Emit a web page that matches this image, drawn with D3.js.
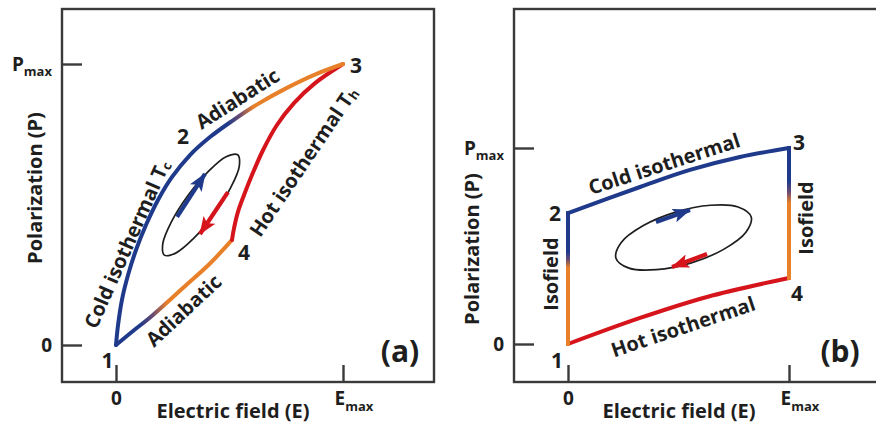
<!DOCTYPE html>
<html>
<head>
<meta charset="utf-8">
<script src="https://cdn.jsdelivr.net/npm/d3@7"></script>
<style>
  html, body { margin: 0; padding: 0; background: #fff; }
  svg { display: block; font-family: "Open Sans", Lato, sans-serif; font-weight: 700; }
</style>
</head>
<body>
<svg id="chart" width="876" height="425"></svg>
<script>
// ---------------------------------------------------------------
// Data: field E in units of Emax, polarization P in units of Pmax
// ---------------------------------------------------------------
const eTicks = [0, 1];
const eTickLabels = [["0", ""], ["E", "max"]];
const pTicks = [0, 1];
const pTickLabels = [["0", ""], ["P", "max"]];

// (a) Carnot-type cycle: cold isothermal 1->2 followed by adiabatic 2->3
const carnotColdThenAdiabat = [
  [0, 0], [0.009, 0.071], [0.026, 0.160], [0.053, 0.249], [0.088, 0.338],
  [0.132, 0.427], [0.185, 0.516], [0.247, 0.598], [0.326, 0.676],
  [0.414, 0.740], [0.511, 0.797], [0.626, 0.858], [0.753, 0.915],
  [0.881, 0.964], [1, 1]
];
// hot isothermal 4->3
const carnotHotIsotherm = [
  [0.511, 0.374], [0.520, 0.416], [0.537, 0.473], [0.564, 0.534],
  [0.599, 0.605], [0.648, 0.694], [0.709, 0.783], [0.784, 0.861],
  [0.877, 0.932], [1, 1]
];
// adiabatic 1->4
const carnotLowerAdiabat = [
  [0, 0], [0.075, 0.050], [0.150, 0.098], [0.295, 0.203],
  [0.414, 0.290], [0.511, 0.374]
];
// small electrocaloric loop inside the cycle
const carnotLoop = [
  [0.536, 0.677], [0.543, 0.636], [0.504, 0.558], [0.432, 0.465],
  [0.343, 0.380], [0.263, 0.327], [0.213, 0.320], [0.206, 0.360],
  [0.244, 0.438], [0.317, 0.532], [0.406, 0.617], [0.485, 0.670]
];
const carnotArrowUp = [[0.269, 0.456], [0.392, 0.609]];
const carnotArrowDown = [[0.493, 0.544], [0.370, 0.395]];

// (b) Ericsson-type cycle
const ericssonCold = [[0, 0.668], [0.326, 0.801], [0.552, 0.888], [0.778, 0.954], [1, 1]];
const ericssonHot = [[0, 0], [0.326, 0.133], [0.629, 0.240], [1, 0.337]];
const ericssonIsofieldLow = [[0, 0], [0, 0.668]];
const ericssonIsofieldHigh = [[1, 1], [1, 0.337]];
const ericssonLoop = [
  [0.829, 0.648], [0.805, 0.570], [0.706, 0.484], [0.558, 0.414],
  [0.400, 0.379], [0.276, 0.387], [0.217, 0.438], [0.240, 0.517],
  [0.339, 0.603], [0.487, 0.673], [0.645, 0.708], [0.770, 0.699]
];
const ericssonArrowUp = [[0.398, 0.622], [0.552, 0.684]];
const ericssonArrowDown = [[0.629, 0.459], [0.471, 0.393]];

// ---------------------------------------------------------------
// Styling and layout
// ---------------------------------------------------------------
const BLUE = "#1f3a8a", RED = "#d5141c", ORANGE = "#e8802a", PURPLE = "#6a4b72";
const INK = "#1e1e1e", FRAME = "#3a3a3a";
const FONT = "'Open Sans', Lato, sans-serif";

const svg = d3.select("#chart");
const defs = svg.append("defs");

// arrowheads
[["head-blue", BLUE], ["head-red", RED]].forEach(([id, col]) => {
  defs.append("marker")
    .attr("id", id)
    .attr("markerUnits", "userSpaceOnUse")
    .attr("viewBox", "0 0 18 14")
    .attr("markerWidth", 18).attr("markerHeight", 14)
    .attr("refX", 17).attr("refY", 7)
    .attr("orient", "auto")
    .append("path")
    .attr("d", "M0,0 L18,7 L0,14 L4,7 Z")
    .attr("fill", col);
});

// colour ramp along one axis, stops given in data units
function ramp(id, axis, scale, stops) {
  const a = scale(0), b = scale(1);
  const g = defs.append("linearGradient")
    .attr("id", id)
    .attr("gradientUnits", "userSpaceOnUse");
  if (axis === "x") g.attr("x1", a).attr("x2", b).attr("y1", 0).attr("y2", 0);
  else g.attr("x1", 0).attr("x2", 0).attr("y1", a).attr("y2", b);
  stops.forEach(([v, c]) => g.append("stop").attr("offset", v).attr("stop-color", c));
  return `url(#${id})`;
}

const panels = [
  {
    key: "a",
    frame: [62, 9, 434, 382],
    xRange: [116, 343], yRange: [345, 64],
    xTitle: [233, 418], yTitle: [34, 188]
  },
  {
    key: "b",
    frame: [514, 9, 884, 382],
    xRange: [568, 789], yRange: [344, 148],
    xTitle: [679, 418], yTitle: [471, 249]
  }
];

function tickText(sel, labels, start) {
  sel.each(function (d, i) {
    const t = d3.select(this)
      .attr("font-size", 19).attr("font-family", FONT)
      .attr("font-weight", 700).attr("fill", INK);
    const [main, sub] = labels[i];
    if (sub && start) t.attr("text-anchor", "start").attr("x", -9);
    t.append("tspan").text(main);
    if (sub) t.append("tspan").attr("font-size", 13).attr("dy", "0.45em").text(sub);
  });
}

function drawFrameAndAxes(p) {
  const g = svg.append("g").attr("class", "panel-" + p.key);
  const x = d3.scaleLinear().domain([0, 1]).range(p.xRange);
  const y = d3.scaleLinear().domain([0, 1]).range(p.yRange);
  const [x0, y0, x1, y1] = p.frame;

  g.append("rect")
    .attr("x", x0).attr("y", y0)
    .attr("width", x1 - x0).attr("height", y1 - y0)
    .attr("fill", "none").attr("stroke", FRAME).attr("stroke-width", 2.4);

  // y axis, ticks pointing into the frame
  const ya = g.append("g")
    .attr("transform", `translate(${x0},0)`)
    .call(d3.axisLeft(y).tickValues(pTicks).tickSizeInner(-20).tickSizeOuter(0)
      .tickPadding(10).tickFormat(() => ""));
  ya.select(".domain").remove();
  ya.selectAll(".tick line").attr("stroke", FRAME).attr("stroke-width", 2.4);
  tickText(ya.selectAll(".tick text"), pTickLabels, false);

  // x axis, ticks pointing into the frame
  const xa = g.append("g")
    .attr("transform", `translate(0,${y1})`)
    .call(d3.axisBottom(x).tickValues(eTicks).tickSizeInner(-17).tickSizeOuter(0)
      .tickPadding(10).tickFormat(() => ""));
  xa.select(".domain").remove();
  xa.selectAll(".tick line").attr("stroke", FRAME).attr("stroke-width", 2.4);
  tickText(xa.selectAll(".tick text"), eTickLabels, true);

  g.append("text")
    .attr("x", p.xTitle[0]).attr("y", p.xTitle[1])
    .attr("text-anchor", "middle").attr("font-size", 20).attr("fill", INK)
    .text("Electric field (E)");
  g.append("text")
    .attr("transform", `translate(${p.yTitle[0]},${p.yTitle[1]}) rotate(-90)`)
    .attr("text-anchor", "middle").attr("dominant-baseline", "central")
    .attr("font-size", 20).attr("fill", INK)
    .text("Polarization (P)");

  return { g, x, y };
}

function curve(g, x, y, pts, stroke, opts = {}) {
  const line = d3.line()
    .x(d => x(d[0])).y(d => y(d[1]))
    .curve(opts.closed ? d3.curveCatmullRomClosed.alpha(0.5) : d3.curveCatmullRom.alpha(0.5));
  return g.append("path")
    .attr("d", line(pts))
    .attr("fill", "none")
    .attr("stroke", stroke)
    .attr("stroke-width", opts.width || 4)
    .attr("stroke-linecap", opts.cap || "round")
    .attr("stroke-linejoin", "round");
}

function arrow(g, x, y, pts, col, head) {
  g.append("line")
    .attr("x1", x(pts[0][0])).attr("y1", y(pts[0][1]))
    .attr("x2", x(pts[1][0])).attr("y2", y(pts[1][1]))
    .attr("stroke", col).attr("stroke-width", 4.2)
    .attr("marker-end", `url(#${head})`);
}

function label(g, x, y, a) {
  const t = g.append("text")
    .attr("transform", `translate(${x(a.E)},${y(a.P)}) rotate(${a.angle || 0})`)
    .attr("text-anchor", "middle").attr("dominant-baseline", "central")
    .attr("font-size", a.size || 20).attr("fill", INK);
  t.append("tspan").text(a.text);
  if (a.sub) t.append("tspan").attr("font-size", 13).attr("dy", 5).text(a.sub);
}

// ---------------------------------------------------------------
// Panel (a)
// ---------------------------------------------------------------
{
  const { g, x, y } = drawFrameAndAxes(panels[0]);
  const upperRamp = ramp("ramp-a-upper", "x", x,
    [[0, BLUE], [0.49, BLUE], [0.545, PURPLE], [0.605, ORANGE], [1, ORANGE]]);
  const lowerRamp = ramp("ramp-a-lower", "x", x,
    [[0, BLUE], [0.106, BLUE], [0.163, PURPLE], [0.225, ORANGE], [1, ORANGE]]);

  curve(g, x, y, carnotLowerAdiabat, lowerRamp);
  curve(g, x, y, carnotHotIsotherm, RED);
  curve(g, x, y, carnotColdThenAdiabat, upperRamp);
  curve(g, x, y, carnotLoop, INK, { closed: true, width: 1.7 });
  arrow(g, x, y, carnotArrowUp, BLUE, "head-blue");
  arrow(g, x, y, carnotArrowDown, RED, "head-red");

  [
    { text: "Cold isothermal T", sub: "c", E: 0.045, P: 0.36, angle: -66 },
    { text: "Adiabatic", E: 0.533, P: 0.879, angle: -32.5 },
    { text: "Hot isothermal T", sub: "h", E: 0.823, P: 0.655, angle: -56 },
    { text: "Adiabatic", E: 0.295, P: 0.125, angle: -43 },
    { text: "1", E: -0.037, P: -0.053, size: 21 },
    { text: "2", E: 0.295, P: 0.745, size: 21 },
    { text: "3", E: 1.057, P: 0.996, size: 21 },
    { text: "4", E: 0.564, P: 0.331, size: 21 },
    { text: "(a)", E: 1.251, P: -0.018, size: 30 }
  ].forEach(a => label(g, x, y, a));
}

// ---------------------------------------------------------------
// Panel (b)
// ---------------------------------------------------------------
{
  const { g, x, y } = drawFrameAndAxes(panels[1]);
  const lowRamp = ramp("ramp-b-low", "y", y,
    [[0, ORANGE], [0.39, ORANGE], [0.43, PURPLE], [0.47, BLUE], [1, BLUE]]);
  const highRamp = ramp("ramp-b-high", "y", y,
    [[0, ORANGE], [0.72, ORANGE], [0.775, PURPLE], [0.83, BLUE], [1, BLUE]]);

  curve(g, x, y, ericssonCold, BLUE);
  curve(g, x, y, ericssonHot, RED);
  curve(g, x, y, ericssonIsofieldLow, lowRamp, { cap: "square" });
  curve(g, x, y, ericssonIsofieldHigh, highRamp, { cap: "square" });
  curve(g, x, y, ericssonLoop, INK, { closed: true, width: 1.7 });
  arrow(g, x, y, ericssonArrowUp, BLUE, "head-blue");
  arrow(g, x, y, ericssonArrowDown, RED, "head-red");

  [
    { text: "Cold isothermal", E: 0.434, P: 0.923, angle: -18 },
    { text: "Hot isothermal", E: 0.520, P: 0.092, angle: -18.5 },
    { text: "Isofield", E: -0.081, P: 0.357, angle: -90 },
    { text: "Isofield", E: 1.072, P: 0.643, angle: -90 },
    { text: "1", E: -0.050, P: -0.082, size: 21 },
    { text: "2", E: -0.059, P: 0.668, size: 21 },
    { text: "3", E: 1.045, P: 1.031, size: 21 },
    { text: "4", E: 1.036, P: 0.260, size: 21 },
    { text: "(b)", E: 1.231, P: -0.031, size: 30 }
  ].forEach(a => label(g, x, y, a));
}
</script>
</body>
</html>
